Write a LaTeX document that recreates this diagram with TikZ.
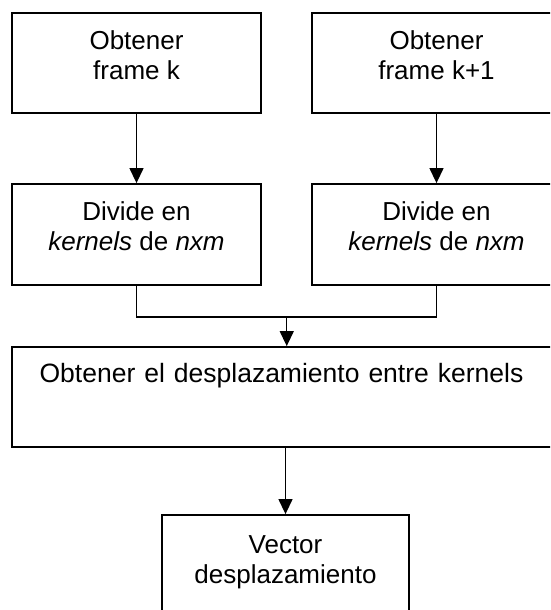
\documentclass[tikz,border=0pt]{standalone}
\usepackage{fontspec}
\setmainfont{Liberation Sans}
\usetikzlibrary{arrows.meta,calc}
\tikzset{
  stepbox/.style={draw=black, line width=1.8pt, rectangle, inner sep=0pt, minimum width=249pt, minimum height=100pt},
  txt/.style={inner sep=0pt, align=center, font=\fontsize{26pt}{30pt}\selectfont},
  ln/.style={draw=black, line width=1.3pt},
  arr/.style={ln, -{Triangle[length=15pt,width=14pt]}}
}
\begin{document}
\begin{tikzpicture}[x=1pt,y=-1pt]
\useasboundingbox (0,0) rectangle (550,610);
\clip (0,0) rectangle (550,610);
% boxes
\node[stepbox] (b1) at (136.5,63) {};
\node[stepbox] (b2) at (436.5,63) {};
\node[stepbox, minimum height=101pt] (b3) at (136.5,234.5) {};
\node[stepbox, minimum height=101pt] (b4) at (436.5,234.5) {};
\node[stepbox, minimum width=549pt] (b5) at (286.5,397) {};
\node[stepbox, minimum width=247pt] (b6) at (285.5,565) {};
% texts
\node[txt, anchor=north] (t1) at (136.5,30) {Obtener\\frame k};
\node[txt, anchor=north] (t2) at (436.5,30) {Obtener\\frame k+1};
\node[txt, anchor=north] (t3) at (136.5,201.5) {Divide en\\\textit{kernels} de \textit{nxm}};
\node[txt, anchor=north] (t4) at (436.5,201.5) {Divide en\\\textit{kernels} de \textit{nxm}};
\node[txt, anchor=base, font=\fontsize{26.5pt}{30pt}\selectfont] (t5) at (281.5,382) {\spaceskip=9pt Obtener el desplazamiento entre kernels};
\node[txt, anchor=north] (t6) at (285.5,535.5) {Vector\\desplazamiento};
% connectors
\coordinate (m) at (286.75,317);
\draw[arr] (b1) -- (b3);
\draw[arr] (b2) -- (b4);
\draw[ln] (b3.south) |- (m) -| (b4.south);
\draw[arr] (m) -- (m |- b5.north);
\draw[arr] (b6.north |- b5.south) -- (b6.north);
\end{tikzpicture}
\end{document}
